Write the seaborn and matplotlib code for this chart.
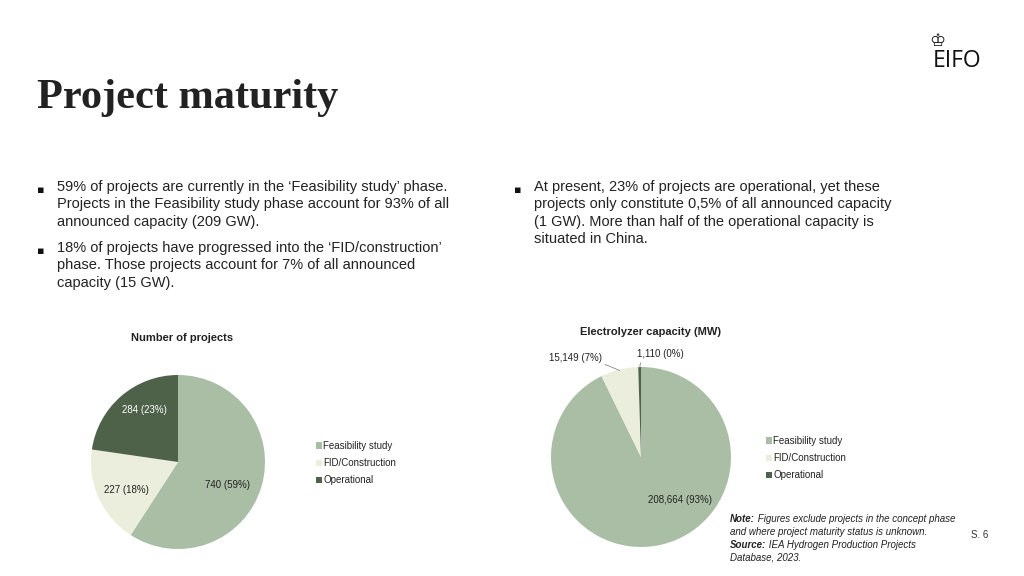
import numpy as np
import seaborn as sns
import matplotlib.pyplot as plt

# data
phases = ["Feasibility study", "FID/Construction", "Operational"]
projects = [740, 227, 284]
capacity_mw = [208664, 15149, 1110]
colors = ["#A9BEA4", "#EBEEDC", "#4D6248"]

bullets_left = [
    "59% of projects are currently in the \u2018Feasibility study\u2019 phase.\n"
    "Projects in the Feasibility study phase account for 93% of all\n"
    "announced capacity (209 GW).",
    "18% of projects have progressed into the \u2018FID/construction\u2019\n"
    "phase. Those projects account for 7% of all announced\n"
    "capacity (15 GW).",
]
bullets_right = [
    "At present, 23% of projects are operational, yet these\n"
    "projects only constitute 0,5% of all announced capacity\n"
    "(1 GW). More than half of the operational capacity is\n"
    "situated in China.",
]

sns.set_theme(style="white")
plt.rcParams["font.family"] = ["Liberation Sans", "DejaVu Sans"]

W, H = 1024, 576
fig = plt.figure(figsize=(10.24, 5.76), dpi=100)


def fx(x):
    return x / W


def fy(y):
    return 1 - y / H


# header
fig.text(fx(37), fy(108), "Project maturity", family="Liberation Serif",
         weight="bold", fontsize=30.5, color="#222222", va="baseline")
fig.text(fx(957), fy(67), "EIFO", family="Open Sans", fontsize=16.5, color="#111111",
         ha="center", va="baseline")
fig.text(fx(937), fy(50), "\u2654", family="DejaVu Sans", fontsize=13, color="#111111",
         ha="center", va="bottom")


# bullets
def bullets(x, y, items, gap):
    for txt in items:
        fig.text(fx(x), fy(y + 5), "\u25aa", family="DejaVu Sans", fontsize=8,
                 color="#111111", va="baseline")
        fig.text(fx(x + 20), fy(y - 8), txt, fontsize=10.5, color="#222222",
                 va="top", linespacing=1.3)
        y += gap


bullets(37, 188, bullets_left, 61)
bullets(514, 188, bullets_right, 0)


def make_pie(cx, cy, r, values, title, tx, ty, label_pos, label_colors, legend_xy):
    ax = fig.add_axes([fx(cx - r), fy(cy + r), 2 * r / W, 2 * r / H])
    total = sum(values)
    wedges, _ = ax.pie(values, colors=colors, startangle=90, counterclock=False,
                       wedgeprops=dict(linewidth=0))
    ax.set_xlim(-1, 1)
    ax.set_ylim(-1, 1)
    ax.set_aspect("auto")
    ax.axis("off")
    fig.text(fx(tx), fy(ty), title, fontsize=8, weight="bold", color="#222222",
             ha="center", va="center")
    for v, w, pos, c in zip(values, wedges, label_pos, label_colors):
        lab = f"{v:,} ({v / total:.0%})"
        if pos[2] is None:
            ax.text(pos[0], pos[1], lab, fontsize=7, color=c, ha="center", va="center")
        else:
            ang = np.deg2rad((w.theta1 + w.theta2) / 2)
            ax.annotate(lab, xy=(np.cos(ang) * 0.99, np.sin(ang) * 0.99),
                        xytext=(pos[0], pos[1]), fontsize=7, color=c,
                        ha="center", va="center", annotation_clip=False,
                        arrowprops=dict(arrowstyle="-", color="#888888", lw=0.6,
                                        shrinkA=0, shrinkB=0, relpos=pos[2]))
    fig.legend(wedges, phases, loc="upper left",
               bbox_to_anchor=(fx(legend_xy[0]), fy(legend_xy[1])),
               frameon=False, fontsize=7, handlelength=0.6, handleheight=0.6,
               handletextpad=0.15, labelspacing=0.75, borderpad=0,
               labelcolor="#222222")
    return ax


make_pie(178, 462, 87, projects, "Number of projects", 182, 338,
         [(0.57, -0.26, None), (-0.59, -0.32, None), (-0.39, 0.60, None)],
         ["#222222", "#222222", "#FFFFFF"], (311, 436))

make_pie(641, 457, 90, capacity_mw, "Electrolyzer capacity (MW)", 651, 332,
         [(0.43, -0.48, None), (-0.73, 1.10, (1, 0)), (0.22, 1.14, (0.08, 0))],
         ["#222222", "#222222", "#222222"], (761, 431))

# note
n1 = fig.text(fx(730), fy(522), "Note:", fontsize=7, weight="bold", style="italic",
              color="#222222", va="baseline")
fig.text(fx(730), fy(535), "and where project maturity status is unknown.", fontsize=7,
         style="italic", color="#222222", va="baseline")
n3 = fig.text(fx(730), fy(548), "Source:", fontsize=7, weight="bold", style="italic",
              color="#222222", va="baseline")
fig.text(fx(730), fy(561), "Database, 2023.", fontsize=7, style="italic",
         color="#222222", va="baseline")
ann_ax = fig.add_axes([0, 0, 1, 1], facecolor="none")
ann_ax.axis("off")
ann_ax.annotate(" Figures exclude projects in the concept phase", xy=(1, 0), xycoords=n1,
                fontsize=7, style="italic", color="#222222", va="bottom")
ann_ax.annotate(" IEA Hydrogen Production Projects", xy=(1, 0), xycoords=n3,
                fontsize=7, style="italic", color="#222222", va="bottom")
fig.text(fx(980), fy(538), "S. 6", fontsize=7, color="#333333", ha="center", va="baseline")

fig.savefig("out.png", dpi=100)
